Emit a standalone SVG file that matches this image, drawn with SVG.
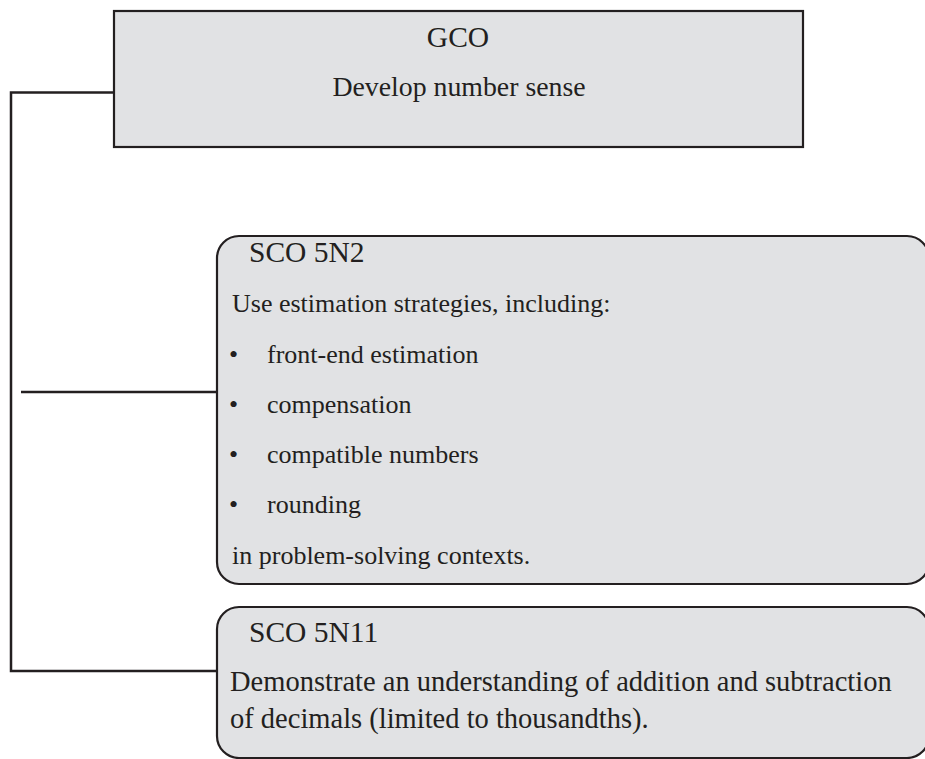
<svg xmlns="http://www.w3.org/2000/svg" width="925" height="759" viewBox="0 0 925 759">
<style>
.box{fill:#e1e2e4;stroke:#231f20;stroke-width:2.2}
.conn{fill:none;stroke:#231f20;stroke-width:2.5}
text{font-family:"Liberation Serif","Times New Roman",serif;font-size:26px;fill:#231f20}
.c{text-anchor:middle}
.h{font-size:29.5px}
.b{font-size:28.5px}
</style>
<rect width="925" height="759" fill="#ffffff"/>
<g id="connectors">
<path class="conn" d="M114,92.5 H11 V671 H217"/>
<path class="conn" d="M21,392 H217"/>
</g>
<g id="gco">
<rect class="box" x="114" y="11" width="689" height="136"/>
<text class="c h" x="458" y="47">GCO</text>
<text class="c" x="459" y="96" style="font-size:27.8px">Develop number sense</text>
</g>
<g id="sco5n2">
<rect class="box" x="217" y="236" width="712" height="348" rx="22" ry="22"/>
<text class="h" x="249" y="262">SCO 5N2</text>
<text x="232" y="312">Use estimation strategies, including:</text>
<text x="229" y="363">•</text><text x="267" y="363">front-end estimation</text>
<text x="229" y="413">•</text><text x="267" y="413">compensation</text>
<text x="229" y="463">•</text><text x="267" y="463">compatible numbers</text>
<text x="229" y="513">•</text><text x="267" y="513">rounding</text>
<text x="232" y="564">in problem-solving contexts.</text>
</g>
<g id="sco5n11">
<rect class="box" x="217" y="607" width="712" height="151" rx="22" ry="22"/>
<text class="h" x="249" y="642">SCO 5N11</text>
<text class="b" x="230" y="691">Demonstrate an understanding of addition and subtraction</text>
<text class="b" x="230" y="728">of decimals (limited to thousandths).</text>
</g>
</svg>
